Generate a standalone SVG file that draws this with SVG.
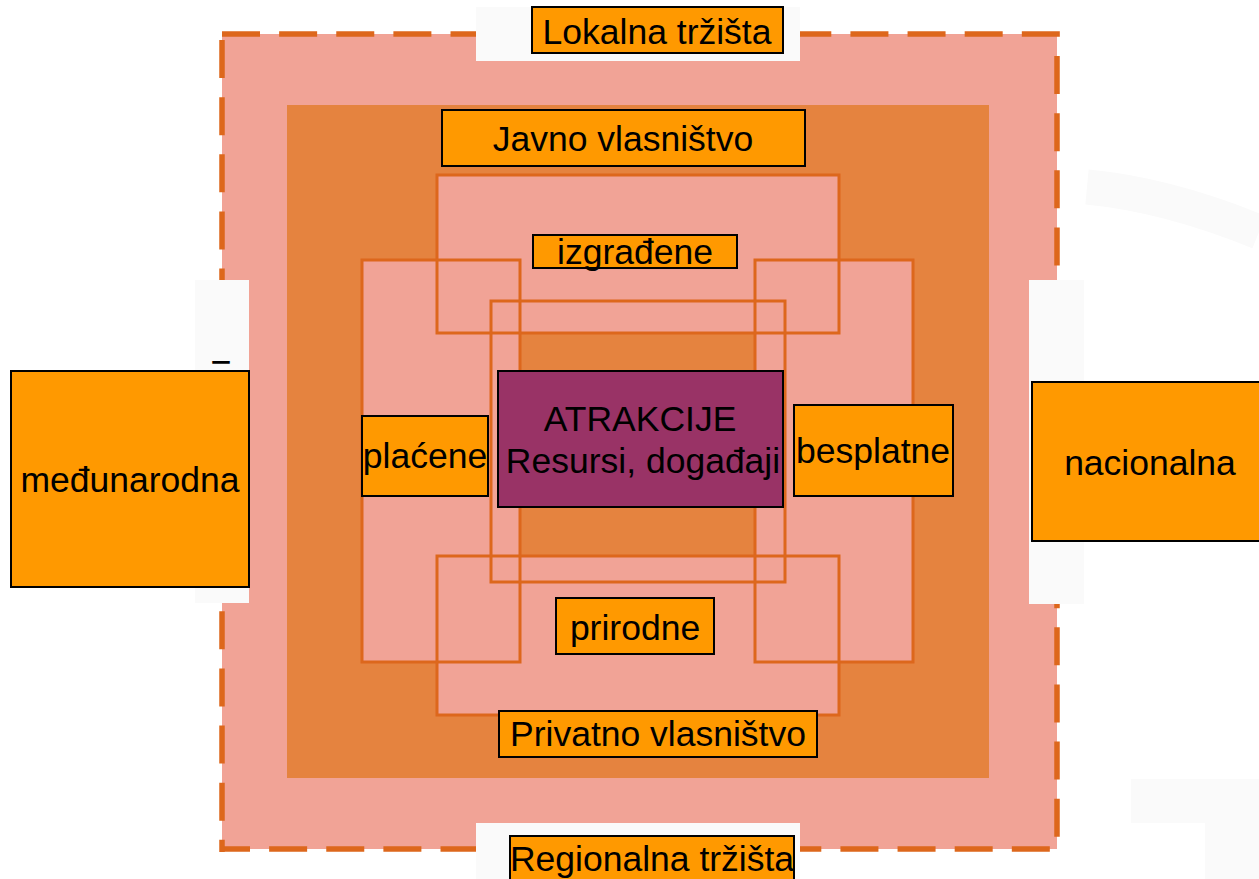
<svg xmlns="http://www.w3.org/2000/svg" width="1259" height="879" viewBox="0 0 1259 879">
<style>
.bg{fill:#FFFFFF}
.faint{fill:#FAFAFA}
.pink{fill:#F1A396}
.dark{fill:#E5833F}
.dash{fill:none;stroke:#DD671C;stroke-width:5.5;stroke-dasharray:38 19.13}
.ring{fill:#F1A396}
.ringline{fill:none;stroke:#DD671C;stroke-width:3}
.lbl{fill:#FF9900;stroke:#000;stroke-width:2}
.core{fill:#993366;stroke:#000;stroke-width:2}
.t{font-family:"Liberation Sans",Arial,sans-serif;font-size:35.5px;fill:#000;text-anchor:middle}
</style>
<rect class="bg" x="0" y="0" width="1259" height="879"/>
<g id="background">
  <path d="M1087,187 Q1167,194.5 1259,232" fill="none" stroke="#FAFAFA" stroke-width="35"/>
  <rect class="faint" x="1131" y="779" width="128" height="44"/>
  <rect class="faint" x="1205" y="823" width="54" height="56"/>
  <rect class="pink" x="222" y="34" width="835" height="815"/>
  <line class="dash" x1="222" y1="34" x2="1060" y2="34"/>
  <line class="dash" x1="1057" y1="56" x2="1057" y2="852"/>
  <line class="dash" x1="222" y1="849" x2="1060" y2="849" stroke-dashoffset="10"/>
  <line class="dash" x1="222" y1="40" x2="222" y2="852"/>
  <rect class="faint" x="476" y="7" width="324" height="54"/>
  <rect class="faint" x="476" y="823" width="324" height="56"/>
  <rect class="faint" x="195" y="280" width="54" height="323"/>
  <rect class="faint" x="1029" y="280" width="55" height="324"/>
  <rect class="dark" x="287" y="105" width="702" height="673"/>
  <rect class="ring" x="437" y="175" width="402" height="158"/>
  <rect class="ring" x="362" y="260" width="158" height="402"/>
  <rect class="ring" x="755" y="260" width="158" height="402"/>
  <rect class="ring" x="437" y="556" width="402" height="159"/>
  <rect class="ringline" x="437" y="175" width="402" height="158"/>
  <rect class="ringline" x="362" y="260" width="158" height="402"/>
  <rect class="ringline" x="755" y="260" width="158" height="402"/>
  <rect class="ringline" x="437" y="556" width="402" height="159"/>
  <rect class="ringline" x="491" y="301" width="294" height="281"/>
  <text class="t" x="221" y="379" style="font-size:36px">=</text>
</g>
<g id="connectors"></g>
<g id="lokalna">
  <rect class="lbl" x="532" y="7" width="251" height="46"/>
  <text class="t" x="657" y="44">Lokalna tržišta</text>
</g>
<g id="javno">
  <rect class="lbl" x="442" y="110" width="363" height="56"/>
  <text class="t" x="623" y="151">Javno vlasništvo</text>
</g>
<g id="izgradjene">
  <rect class="lbl" x="533" y="235" width="204" height="33"/>
  <text class="t" x="635" y="264">izgrađene</text>
</g>
<g id="placene">
  <rect class="lbl" x="362" y="416" width="126" height="80"/>
  <text class="t" x="425" y="468">plaćene</text>
</g>
<g id="atrakcije">
  <rect class="core" x="498" y="371" width="285" height="136"/>
  <text class="t" x="640" y="431">ATRAKCIJE</text>
  <text class="t" x="643" y="473">Resursi, događaji</text>
</g>
<g id="besplatne">
  <rect class="lbl" x="794" y="405" width="159" height="91"/>
  <text class="t" x="873" y="463">besplatne</text>
</g>
<g id="prirodne">
  <rect class="lbl" x="556" y="598" width="158" height="56"/>
  <text class="t" x="635" y="640">prirodne</text>
</g>
<g id="privatno">
  <rect class="lbl" x="499" y="711" width="318" height="46"/>
  <text class="t" x="658" y="746">Privatno vlasništvo</text>
</g>
<g id="regionalna">
  <rect class="lbl" x="510" y="836" width="284" height="56"/>
  <text class="t" x="652" y="871">Regionalna tržišta</text>
</g>
<g id="medjunarodna">
  <rect class="lbl" x="11" y="371" width="238" height="216"/>
  <text class="t" x="130" y="492">međunarodna</text>
</g>
<g id="nacionalna">
  <rect class="lbl" x="1032" y="382" width="237" height="159"/>
  <text class="t" x="1150" y="475">nacionalna</text>
</g>
</svg>
